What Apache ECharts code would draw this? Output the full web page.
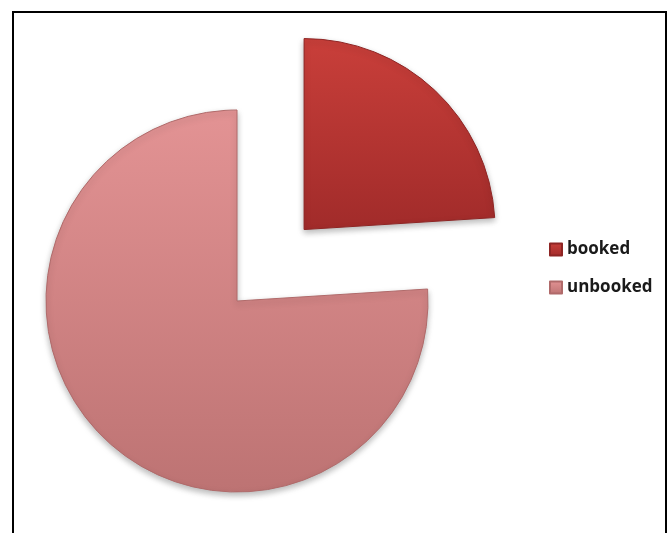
<!DOCTYPE html>
<html>
<head>
<meta charset="utf-8">
<script src="https://cdn.jsdelivr.net/npm/echarts@6/dist/echarts.min.js"></script>
<style>
  html, body { margin: 0; padding: 0; background: #fff; }
  #frame {
    position: absolute; left: 12px; top: 11px; width: 655px; height: 540px;
    border: 2px solid #000; border-bottom: none; box-sizing: border-box;
  }
  #chart { position: absolute; left: 0; top: 0; width: 670px; height: 533px; }
</style>
</head>
<body>
<div id="frame"></div>
<div id="chart"></div>
<script>
// Share of slots
const categories = ['booked', 'unbooked'];
const shares = [24, 76];

// Slice fills (top colour, bottom colour)
const fills = [
  ['#c93f3a', '#a12b2a'],
  ['#e39394', '#bd7373']
];

function grad(c) {
  return new echarts.graphic.LinearGradient(0, 0, 0, 1, [
    { offset: 0, color: c[0] },
    { offset: 1, color: c[1] }
  ]);
}

const chart = echarts.init(document.getElementById('chart'), null, { renderer: 'canvas' });

chart.setOption({
  animation: false,
  backgroundColor: 'transparent',
  legend: {
    orient: 'vertical',
    left: 549,
    top: 241,
    padding: 0,
    itemWidth: 12,
    itemHeight: 12,
    itemGap: 21,
    icon: 'rect',
    data: categories,
    textStyle: {
      fontFamily: '"Open Sans", Lato, sans-serif',
      fontWeight: 'bold',
      fontSize: 17,
      lineHeight: 15,
      color: '#1a1a1a',
      padding: [0, 0, 0, 0]
    }
  },
  series: [{
    type: 'pie',
    center: [237, 301],
    radius: 191,
    startAngle: 90,
    clockwise: true,
    selectedMode: 'single',
    selectedOffset: 98,
    label: { show: false },
    labelLine: { show: false },
    emphasis: { disabled: true },
    itemStyle: {
      borderWidth: 1,
      shadowBlur: 6,
      shadowOffsetY: 3,
      shadowColor: 'rgba(0,0,0,0.28)'
    },
    data: categories.map((name, i) => ({
      name: name,
      value: shares[i],
      selected: i === 0,
      itemStyle: {
        color: grad(fills[i]),
        borderColor: i === 0 ? '#8e2524' : '#b06a6a'
      },
      select: { itemStyle: { color: grad(fills[i]) } }
    }))
  }]
});
</script>
</body>
</html>
